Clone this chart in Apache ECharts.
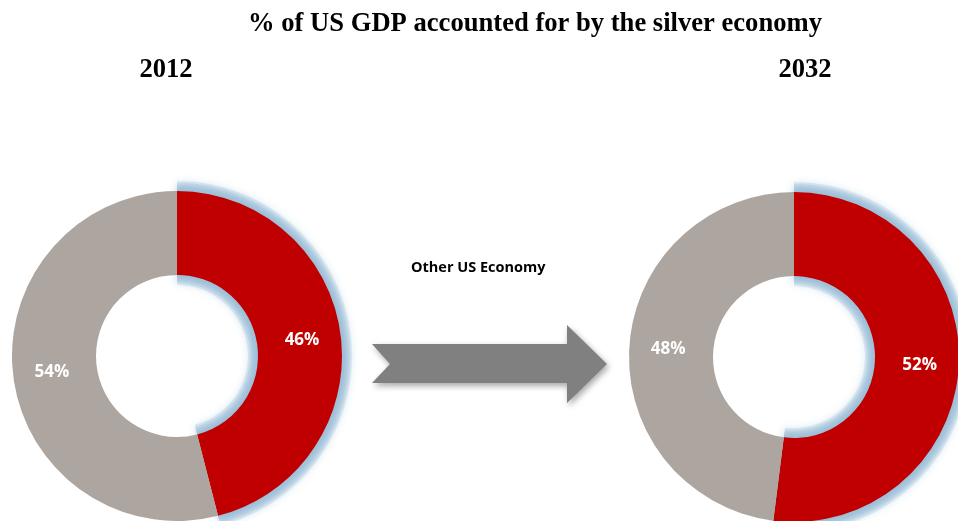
<!DOCTYPE html>
<html>
<head>
<meta charset="utf-8">
<script src="https://cdn.jsdelivr.net/npm/echarts@6/dist/echarts.min.js"></script>
<style>
  html, body { margin: 0; padding: 0; background: #ffffff; }
  #chart { width: 958px; height: 521px; }
</style>
</head>
<body>
<div id="chart"></div>
<script>
// Share of US GDP: silver economy vs the rest
const years = ['2012', '2032'];
const segments = ['Silver economy', 'Other US Economy'];
const silverShare = [46, 52];
const otherShare = [54, 48];

const silverColor = '#C00000';
const otherColor = '#ADA59F';
const haloColor = 'rgba(145,186,212,0.24)';
const centers = [[177, 356], [794, 357]];
const innerR = 81, outerR = 165;

const chart = echarts.init(document.getElementById('chart'), null, { renderer: 'canvas' });

// soft blue halo around the silver slice, built from several widening translucent bands
function halo(i, k) {
  return {
    type: 'pie',
    name: years[i] + ' halo ' + k,
    center: centers[i],
    radius: [innerR - 2 * k, outerR + 2 * k],
    startAngle: 90,
    clockwise: true,
    silent: true,
    z: 1,
    label: { show: false },
    labelLine: { show: false },
    data: [
      {
        name: segments[0],
        value: silverShare[i],
        itemStyle: { color: haloColor, shadowColor: 'rgba(145,186,212,0.6)', shadowBlur: 9 }
      },
      {
        name: segments[1],
        value: otherShare[i],
        itemStyle: { color: 'rgba(0,0,0,0)' }
      }
    ]
  };
}

function ring(i) {
  return {
    type: 'pie',
    name: years[i],
    center: centers[i],
    radius: [innerR, outerR],
    startAngle: 90,
    clockwise: true,
    silent: true,
    z: 2,
    avoidLabelOverlap: false,
    label: {
      show: true,
      position: 'inside',
      formatter: '{c}%',
      color: '#ffffff',
      fontFamily: 'Open Sans',
      fontWeight: 'bold',
      fontSize: 17
    },
    labelLine: { show: false },
    data: [
      { name: segments[0], value: silverShare[i], itemStyle: { color: silverColor } },
      { name: segments[1], value: otherShare[i], itemStyle: { color: otherColor } }
    ]
  };
}

const series = [];
years.forEach((yr, i) => {
  for (let k = 5; k >= 1; k--) series.push(halo(i, k));
  series.push(ring(i));
});

const serifTitle = { fontFamily: 'Liberation Serif', fontWeight: 'bold', fontSize: 26.6, color: '#000' };

chart.setOption({
  backgroundColor: '#ffffff',
  animation: false,
  title: [
    { text: '% of US GDP accounted for by the silver economy', left: 530, top: 6, textAlign: 'center', textStyle: serifTitle },
    { text: years[0], left: 161, top: 52, textAlign: 'center', textStyle: serifTitle },
    { text: years[1], left: 800, top: 52, textAlign: 'center', textStyle: serifTitle }
  ],
  graphic: [
    {
      type: 'text',
      left: 411, top: 260,
      style: {
        text: segments[1],
        fontFamily: 'Open Sans', fontWeight: 'bold', fontSize: 14.5, fill: '#000'
      }
    },
    {
      // transition arrow between the two years
      type: 'polygon',
      shape: {
        points: [[372, 344], [567, 344], [567, 325], [607, 364], [567, 403], [567, 383], [372, 383], [390, 364]]
      },
      style: {
        fill: '#808080',
        shadowColor: 'rgba(0,0,0,0.35)',
        shadowBlur: 6,
        shadowOffsetX: 2,
        shadowOffsetY: 3
      }
    }
  ],
  series: series
});
</script>
</body>
</html>
